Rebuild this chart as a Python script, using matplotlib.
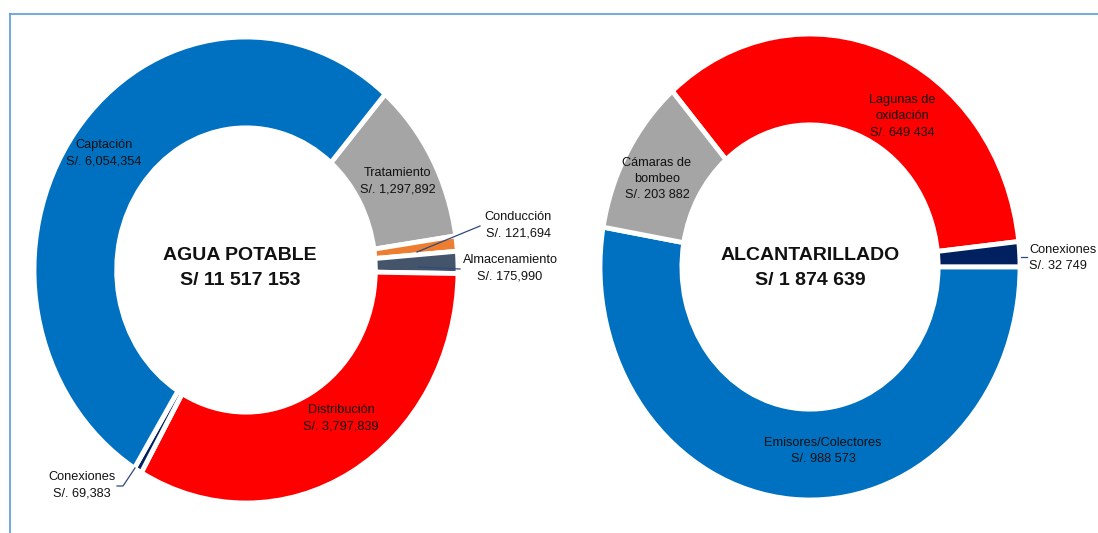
import matplotlib
matplotlib.use('Agg')
import matplotlib.pyplot as plt

# datos de los dos anillos (en orden horario desde el angulo inicial)
agua_labels = ['Tratamiento', 'Conducción', 'Almacenamiento', 'Distribución', 'Conexiones', 'Captación']
agua_values = [1297892, 121694, 175990, 3797839, 69383, 6054354]
agua_colors = ['#A5A5A5', '#ED7D31', '#44546A', '#FF0000', '#002060', '#0070C0']
agua_text = ['Tratamiento\nS/. 1,297,892', 'Conducción\nS/. 121,694', 'Almacenamiento\nS/. 175,990',
             'Distribución\nS/. 3,797,839', 'Conexiones\nS/. 69,383', 'Captación\nS/. 6,054,354']

alc_labels = ['Lagunas de oxidación', 'Conexiones', 'Emisores/Colectores', 'Cámaras de bombeo']
alc_values = [649434, 32749, 988573, 203882]
alc_colors = ['#FF0000', '#002060', '#0070C0', '#A5A5A5']
alc_text = ['Lagunas de\noxidación\nS/. 649 434', 'Conexiones\nS/. 32 749', 'Emisores/Colectores\nS/. 988 573',
            'Cámaras de\nbombeo\nS/. 203 882']

titulos = ['AGUA POTABLE\nS/ 11 517 153', 'ALCANTARILLADO\nS/ 1 874 639']

W, H = 1098, 533
plt.rcParams['font.family'] = ['Liberation Sans', 'DejaVu Sans']
fig = plt.figure(figsize=(W / 100, H / 100), dpi=100)

def dona(cx, cy, rx, ry, valores, colores, inicio):
    ax = fig.add_axes([0, 0, 1, 1])
    ax.pie(valores, colors=colores, startangle=inicio, counterclock=False,
           wedgeprops=dict(width=0.39, edgecolor='white', linewidth=3.5))
    ax.set_aspect('auto')
    ax.set_xlim(-cx / rx, (W - cx) / rx)
    ax.set_ylim((cy - H) / ry, cy / ry)
    ax.axis('off')
    ax.patch.set_alpha(0)
    return ax

dona(246, 270, 212, 233, agua_values, agua_colors, 49)
dona(810, 267, 210, 233, alc_values, alc_colors, 131)

# capa de texto en pixeles
tx = fig.add_axes([0, 0, 1, 1])
tx.set_xlim(0, W)
tx.set_ylim(H, 0)
tx.axis('off')
tx.patch.set_alpha(0)

# marco
tx.plot([10, W], [14, 14], color='#5B9BD5', lw=1.2)
tx.plot([10, 10], [14, H], color='#5B9BD5', lw=1.2)

fs = 9.2
c = '#111111'
pos_agua = [(398, 181), (518, 225), (510, 268), (341, 418), (82, 485), (104, 153)]
for (x, y), t in zip(pos_agua, agua_text):
    tx.text(x, y, t, ha='center', va='center', fontsize=fs, color=c, linespacing=1.5)
pos_alc = [(902, 116), (1029, 258), (823, 451), (657, 179)]
for i, ((x, y), t) in enumerate(zip(pos_alc, alc_text)):
    tx.text(x, y, t, ha='left' if i == 1 else 'center', va='center', fontsize=fs, color=c,
            linespacing=1.5)

# lineas guia
lc = '#2F4A7A'
tx.plot([417, 480], [252, 226], color=lc, lw=0.9)
tx.plot([418, 460], [267, 269], color=lc, lw=0.9)
tx.plot([135, 123, 117], [468, 486, 486], color=lc, lw=0.9)
tx.plot([1021, 1027], [257, 257], color=lc, lw=0.9)

tx.text(240, 268, titulos[0], ha='center', va='center', fontsize=14, fontweight='bold',
        color=c, linespacing=1.6)
tx.text(810, 268, titulos[1], ha='center', va='center', fontsize=14, fontweight='bold',
        color=c, linespacing=1.6)

fig.savefig('out.png', dpi=100)
